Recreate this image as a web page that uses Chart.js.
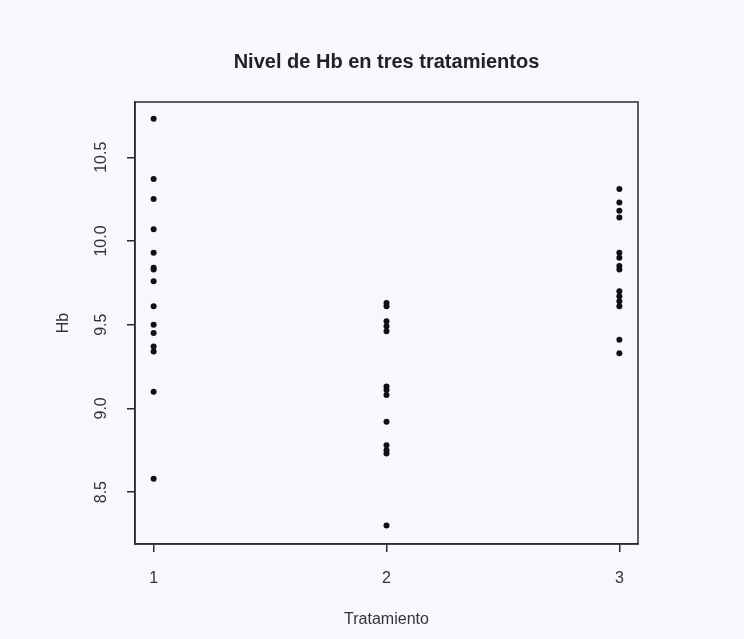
<!DOCTYPE html>
<html>
<head>
<meta charset="utf-8">
<script src="https://cdn.jsdelivr.net/npm/chart.js@4/dist/chart.umd.min.js"></script>
<style>
  html, body { margin: 0; padding: 0; background: #f6f8fb; }
  #wrap { width: 744px; height: 639px; }
</style>
</head>
<body>
<div id="wrap"><canvas id="c" width="744" height="639"></canvas></div>
<script>
// Treatment codes and Hb values
const tratamientos = [1, 2, 3];
const hbTratamiento1 = [10.73, 10.37, 10.25, 10.07, 9.93, 9.84, 9.83, 9.76, 9.61, 9.50, 9.45, 9.37, 9.34, 9.10, 8.58];
const hbTratamiento2 = [9.63, 9.61, 9.52, 9.49, 9.46, 9.13, 9.11, 9.08, 8.92, 8.78, 8.75, 8.73, 8.30];
const hbTratamiento3 = [10.31, 10.23, 10.18, 10.14, 9.93, 9.90, 9.85, 9.83, 9.70, 9.67, 9.64, 9.61, 9.41, 9.33];
const xTicks = [1, 2, 3];
const yTicks = [8.5, 9.0, 9.5, 10.0, 10.5];

const groups = [hbTratamiento1, hbTratamiento2, hbTratamiento3];
const points = [];
groups.forEach((vals, i) => vals.forEach(v => points.push({ x: tratamientos[i], y: v })));

const FONT = '"Liberation Sans", Arial, Helvetica, sans-serif';
const TXT = '#333';

const framePlugin = {
  id: 'frame',
  beforeDraw(chart) {
    const { ctx } = chart;
    ctx.save();
    ctx.fillStyle = '#f6f8fb';
    ctx.fillRect(0, 0, chart.width, chart.height);
    ctx.restore();
  },
  afterDraw(chart) {
    const { ctx, chartArea: a } = chart;
    ctx.save();
    ctx.strokeStyle = '#2a2a2a';
    ctx.lineWidth = 1.5;
    ctx.strokeRect(a.left, a.top, a.right - a.left, a.bottom - a.top);
    ctx.restore();
  }
};

new Chart(document.getElementById('c'), {
  type: 'scatter',
  data: {
    datasets: [{
      data: points,
      backgroundColor: '#111',
      borderColor: '#111',
      pointRadius: 3,
      pointHoverRadius: 3,
      borderWidth: 0
    }]
  },
  options: {
    responsive: false,
    animation: false,
    events: [],
    layout: { padding: { left: 0, right: 106, top: 0, bottom: 0 } },
    plugins: {
      legend: { display: false },
      tooltip: { enabled: false },
      title: {
        display: true,
        fullSize: false,
        text: 'Nivel de Hb en tres tratamientos',
        color: '#222',
        font: { family: FONT, size: 20, weight: 'bold' },
        padding: { top: 50, bottom: 28 }
      }
    },
    scales: {
      x: {
        type: 'linear',
        min: 0.92,
        max: 3.08,
        afterBuildTicks(scale) { scale.ticks = xTicks.map(v => ({ value: v })); },
        afterFit(scale) { scale.height = 95; },
        grid: { display: true, drawOnChartArea: false, drawTicks: true, tickLength: 8, color: '#2a2a2a', lineWidth: 1.5 },
        border: { display: true, color: '#2a2a2a', width: 1.5 },
        ticks: {
          color: TXT,
          font: { family: FONT, size: 16 },
          padding: 17,
          maxRotation: 0,
          callback: v => String(v)
        },
        title: {
          display: true,
          text: 'Tratamiento',
          color: TXT,
          font: { family: FONT, size: 16 },
          padding: { top: 0, bottom: 10 }
        }
      },
      y: {
        type: 'linear',
        min: 8.19,
        max: 10.83,
        afterBuildTicks(scale) { scale.ticks = yTicks.map(v => ({ value: v })); },
        afterFit(scale) { scale.width = 135; },
        grid: { display: true, drawOnChartArea: false, drawTicks: true, tickLength: 8, color: '#2a2a2a', lineWidth: 1.5 },
        border: { display: true, color: '#2a2a2a', width: 1.5 },
        ticks: {
          color: TXT,
          font: { family: FONT, size: 16 },
          padding: 10,
          minRotation: 90,
          maxRotation: 90,
          crossAlign: 'center',
          callback: v => v.toFixed(1)
        },
        title: {
          display: true,
          text: 'Hb',
          color: TXT,
          font: { family: FONT, size: 16 },
          padding: { top: 54, bottom: 0 }
        }
      }
    }
  },
  plugins: [framePlugin]
});
</script>
</body>
</html>
